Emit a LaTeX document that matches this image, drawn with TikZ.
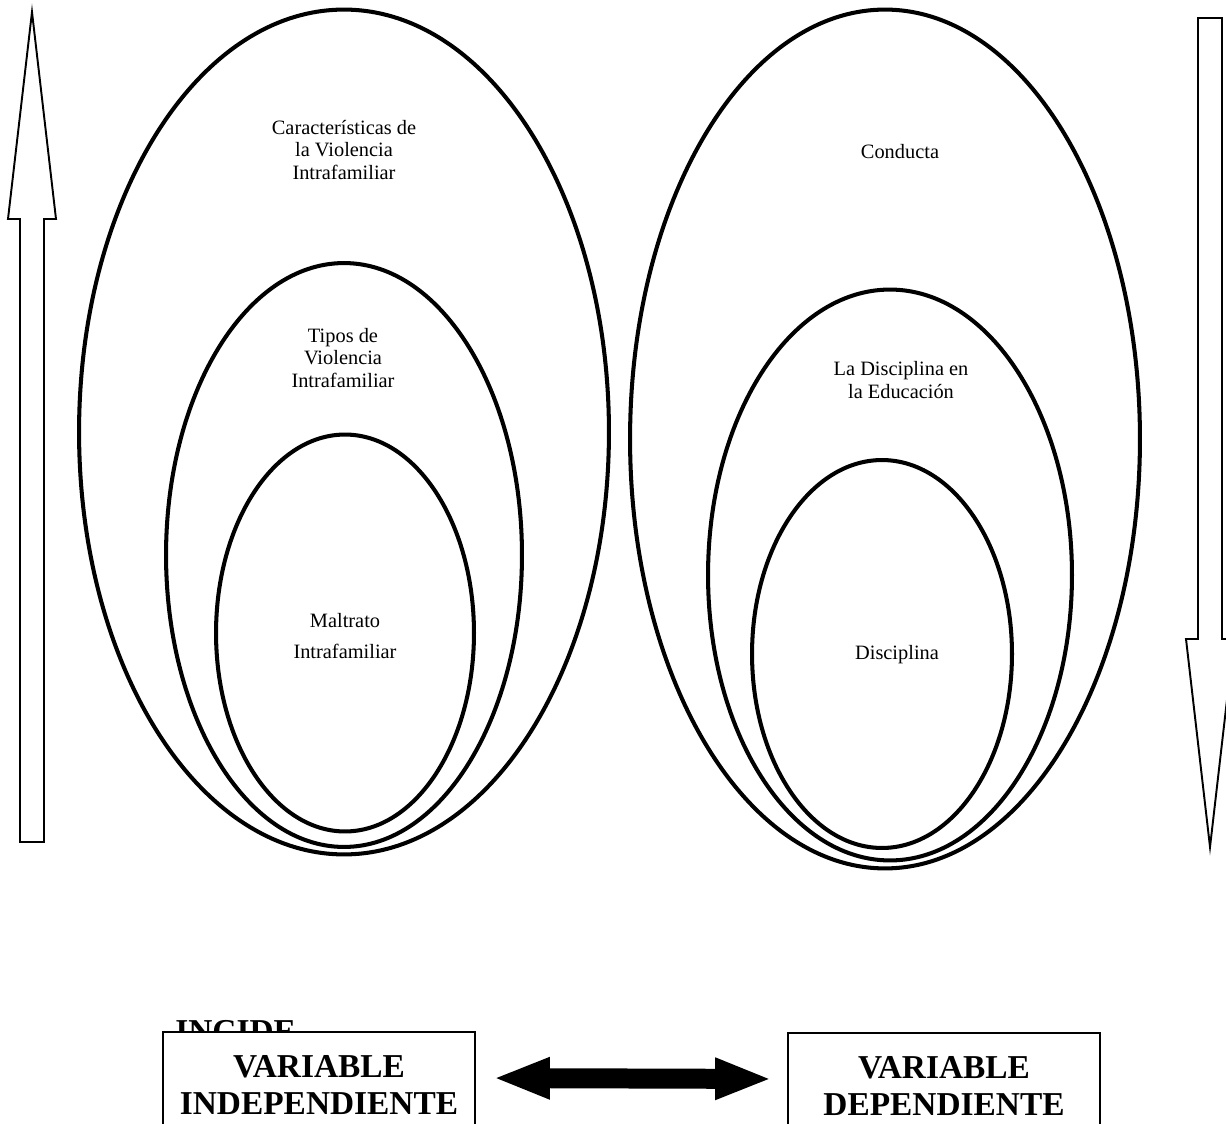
\documentclass[tikz,border=0pt]{standalone}
\usepackage{fontspec}
\setmainfont{Liberation Serif}
\usetikzlibrary{arrows.meta, shapes.geometric, positioning}

\begin{document}
\begin{tikzpicture}[
    x=0.02cm, y=-0.02cm,
    ring/.style={ellipse, draw, line width=2.3pt, inner sep=0pt},
    tag/.style={align=center, inner sep=0pt, font=\fontsize{11.6}{12.8}\selectfont},
    varbox/.style={rectangle, draw, line width=1.1pt, fill=white, align=center,
        minimum width=6.24cm, minimum height=2.12cm,
        font=\fontsize{19}{21}\selectfont\bfseries},
    hollow/.style={draw, line width=1.1pt, fill=white},
    dbl/.style={line width=0.4cm,
        {Triangle[length=1.14cm, width=0.76cm]}-{Triangle[length=1.14cm, width=0.76cm]}}
]
\useasboundingbox (0,0) rectangle (1226,1124);

% --- Side arrows ---
\draw[hollow] (20,842) -- (20,219) -- (8,219) -- (32,12) -- (56,219)
    -- (44,219) -- (44,842) -- cycle;
\draw[hollow] (1198,18) -- (1222,18) -- (1222,639) -- (1234,639)
    -- (1210,847) -- (1186,639) -- (1198,639) -- cycle;

% --- Left ellipses ---
\node[ring, minimum width=10.6cm, minimum height=16.9cm] (caracL) at (344,432) {};
\node[ring, minimum width=7.12cm, minimum height=11.68cm] (tiposL) at (344,555) {};
\node[ring, minimum width=5.16cm, minimum height=7.94cm] (maltL) at (345,633) {};

\node[tag] (carac) at (344,150) {Características de\\la Violencia\\Intrafamiliar};
\node[tag] (tipos) at (343,358) {Tipos de\\Violencia\\Intrafamiliar};
\node[tag] (malt) at (345,636) {Maltrato\\[4.8pt]Intrafamiliar};

% --- Right ellipses ---
\node[ring, minimum width=10.2cm, minimum height=17.18cm] (condR) at (885,439) {};
\node[ring, minimum width=7.28cm, minimum height=11.42cm] (discEdR) at (890,575) {};
\node[ring, minimum width=5.2cm, minimum height=7.76cm] (discR) at (882,654) {};

\node[tag] (cond) at (900,152) {Conducta};
\node[tag] (discEd) at (901,380) {La Disciplina en\\la Educación};
\node[tag] (disc) at (897,655) {Disciplina};

% --- Variables ---
\node[anchor=base west, inner sep=0pt, font=\fontsize{19}{21}\selectfont\bfseries]
    (incide) at (175,1042) {INCIDE};
\node[varbox] (indep) at (319,1085) {VARIABLE\\INDEPENDIENTE};
\node[varbox] (dep) at (944,1086) {VARIABLE\\DEPENDIENTE};

\draw[dbl, shorten <=0.34cm, shorten >=0.3cm]
    ([yshift=0.14cm]indep.east) -- ([yshift=0.14cm]dep.west);

\end{tikzpicture}
\end{document}
